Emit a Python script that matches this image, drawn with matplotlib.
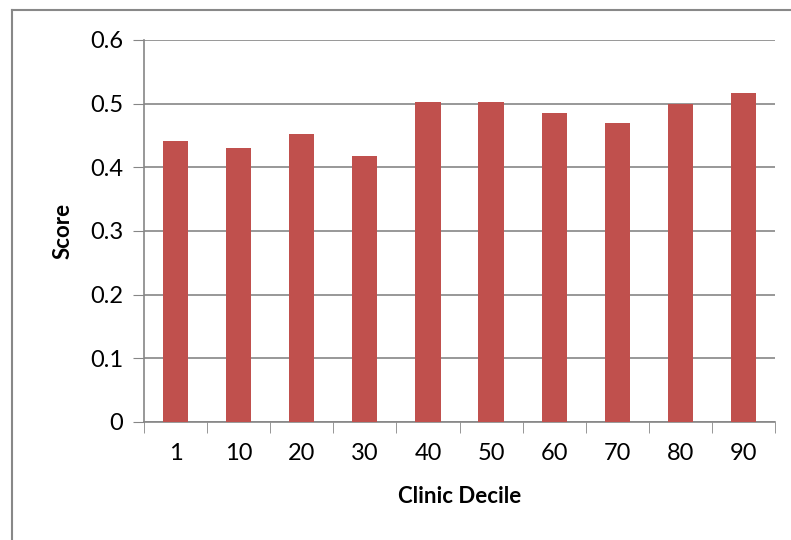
import matplotlib
matplotlib.use("Agg")
import matplotlib.pyplot as plt
from matplotlib.lines import Line2D

categories = ["1", "10", "20", "30", "40", "50", "60", "70", "80", "90"]
scores = [0.442, 0.431, 0.452, 0.418, 0.503, 0.502, 0.485, 0.469, 0.499, 0.517]
yticks = [0, 0.1, 0.2, 0.3, 0.4, 0.5, 0.6]
ytick_labels = ["0", "0.1", "0.2", "0.3", "0.4", "0.5", "0.6"]

plt.rcParams['font.family'] = ['Lato', 'DejaVu Sans']

W, H = 791, 540
fig = plt.figure(figsize=(W/100, H/100), dpi=100)
ax = fig.add_axes([144/W, 1 - 422/H, (775-144)/W, (422-40)/H])

x = list(range(len(categories)))
ax.bar(x, scores, width=0.4, color="#C0504D", zorder=3)
ax.set_xlim(-0.5, len(categories) - 0.5)
ax.set_ylim(0, 0.6)
ax.set_yticks(yticks)
ax.set_yticklabels(ytick_labels, fontsize=17)
ax.set_xticks(x)
ax.set_xticklabels(categories, fontsize=17)
ax.set_xticks([i - 0.5 for i in range(len(categories) + 1)], minor=True)
ax.tick_params(axis='x', which='major', length=0, pad=15)
ax.tick_params(axis='x', which='minor', length=8, color="#868686", direction='out')
ax.tick_params(axis='y', length=8, color="#868686", direction='out', pad=7)
ax.grid(axis='y', color="#868686", linewidth=1.2, zorder=0)
for s in ['top', 'right']:
    ax.spines[s].set_visible(False)
for s in ['left', 'bottom']:
    ax.spines[s].set_color("#868686")
    ax.spines[s].set_linewidth(1.2)

ax.set_ylabel("Score", fontsize=16, fontweight='bold', labelpad=12)
ax.set_xlabel("Clinic Decile", fontsize=16, fontweight='bold', labelpad=16)

# chart border (partly cropped)
fig.add_artist(Line2D([12/W, 12/W], [0, 1 - 10/H], transform=fig.transFigure, color="#888888", linewidth=1.5))
fig.add_artist(Line2D([12/W, 1], [1 - 10/H, 1 - 10/H], transform=fig.transFigure, color="#888888", linewidth=1.5))

fig.savefig("out.png", dpi=100)
